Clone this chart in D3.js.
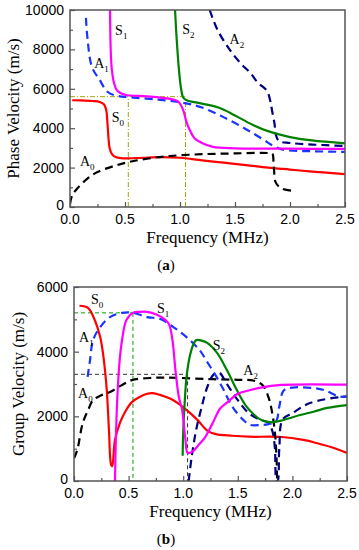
<!DOCTYPE html>
<html>
<head>
<meta charset="utf-8">
<script src="https://cdn.jsdelivr.net/npm/d3@7"></script>
<style>
  body { margin: 0; background: #fff; }
  .tick-label { font-family: "Liberation Sans", Arial, sans-serif; font-size: 14px; fill: #000; }
  .title { font-family: "Liberation Serif", "Times New Roman", serif; font-size: 17px; fill: #000; }
  .mode { font-family: "Liberation Serif", "Times New Roman", serif; font-size: 14px; fill: #000; }
</style>
</head>
<body>
<div id="chart"></div>
<script>
/* tick values */
var freqTicks = [0, 0.5, 1.0, 1.5, 2.0, 2.5]
var phaseTicks = [0, 2000, 4000, 6000, 8000, 10000]
var groupTicks = [0, 2000, 4000, 6000]

/* (a) phase velocity curves, [MHz, m/s] */
var phaseS0 = [[0.02,5420],[0.1,5410],[0.2,5380],[0.27,5330],[0.31,5200],[0.33,4900],[0.34,4300],[0.35,3500],[0.36,3000],[0.38,2700],[0.42,2520],[0.5,2470],[0.6,2480],[0.8,2530],[1.0,2500],[1.2,2370],[1.4,2250],[1.6,2130],[1.8,2000],[2.0,1900],[2.2,1800],[2.5,1670]]
var phaseA0 = [[0.0,150],[0.02,600],[0.06,900],[0.15,1400],[0.25,1780],[0.4,2080],[0.53,2280],[0.7,2450],[0.91,2590],[1.2,2680],[1.5,2720],[1.8,2740],[1.84,2700],[1.85,2300],[1.855,1900],[1.87,1250],[1.92,950],[2.05,800]]
var phaseS1 = [[0.364,10000],[0.37,8000],[0.38,7000],[0.4,6300],[0.43,5900],[0.5,5700],[0.7,5620],[0.9,5500],[0.97,5400],[1.0,5250],[1.03,4900],[1.06,4300],[1.09,3900],[1.13,3500],[1.2,3250],[1.3,3050],[1.5,2980],[2.0,2960],[2.5,2950]]
var phaseA1 = [[0.145,9600],[0.16,8500],[0.2,7100],[0.27,6450],[0.34,5850],[0.43,5640],[0.55,5570],[0.8,5450],[1.0,5320],[1.2,5050],[1.4,4550],[1.6,3950],[1.75,3450],[1.85,3100],[1.95,2900],[2.2,2830],[2.5,2800]]
var phaseS2 = [[0.955,10000],[0.97,8500],[0.99,7000],[1.01,6000],[1.03,5550],[1.06,5420],[1.2,5250],[1.35,5050],[1.5,4650],[1.65,4200],[1.8,3850],[2.0,3550],[2.2,3380],[2.5,3230]]
var phaseA2 = [[1.27,10000],[1.34,9000],[1.45,8000],[1.55,7300],[1.64,6800],[1.71,6300],[1.79,5900],[1.82,5400],[1.84,4800],[1.86,4200],[1.87,3700],[1.9,3350],[2.0,3250],[2.2,3170],[2.5,3100]]
var phaseRefs = [[[0,5600],[1.05,5600]], [[0.53,0],[0.53,5600]], [[1.05,0],[1.05,5600]]]

/* (b) group velocity curves, [MHz, m/s] */
var groupS0 = [[0.05,5420],[0.13,5350],[0.19,4980],[0.24,4450],[0.27,3830],[0.3,2820],[0.32,1580],[0.34,500],[0.35,460],[0.375,1270],[0.42,1790],[0.47,2150],[0.53,2440],[0.6,2600],[0.67,2700],[0.72,2720],[0.79,2660],[0.91,2500],[1.03,2200],[1.13,1890],[1.22,1560],[1.3,1450],[1.45,1400],[1.6,1370],[1.9,1360],[2.1,1270],[2.22,1175],[2.4,1000],[2.5,866]]
var groupA0 = [[0.0,700],[0.03,960],[0.08,1790],[0.13,2200],[0.175,2500],[0.25,2650],[0.33,2750],[0.43,2950],[0.53,3120],[0.72,3190],[0.94,3190],[1.25,3150],[1.5,3130],[1.65,3100],[1.73,2950],[1.78,2600],[1.81,2200],[1.84,1490],[1.855,700],[1.86,0]]
var groupS1 = [[0.375,0],[0.385,1500],[0.4,2800],[0.42,3800],[0.44,4360],[0.48,4980],[0.54,5200],[0.6,5230],[0.67,5230],[0.76,5140],[0.83,5000],[0.87,4850],[0.9,4400],[0.93,3400],[0.96,2600],[0.99,2200],[1.02,1300],[1.04,870],[1.08,900],[1.15,1150],[1.2,1350],[1.27,1790],[1.34,2250],[1.41,2450],[1.5,2700],[1.6,2800],[1.7,2880],[1.9,2970],[2.5,2980]]
var groupA1 = [[0.125,3220],[0.147,3740],[0.175,4360],[0.24,4760],[0.33,5070],[0.44,5200],[0.54,5200],[0.67,5070],[0.79,5010],[0.91,4760],[1.03,4450],[1.15,4050],[1.22,3680],[1.3,3250],[1.37,2820],[1.45,2300],[1.55,1890],[1.61,1740],[1.7,1730],[1.78,1760],[1.85,1850],[1.88,2300],[1.92,2800],[2.0,2890],[2.2,2870],[2.3,2800],[2.42,2620],[2.5,2600]]
var groupS2 = [[0.995,780],[1.0,1500],[1.015,2500],[1.03,3200],[1.06,3850],[1.09,4200],[1.12,4360],[1.17,4340],[1.22,4270],[1.31,3960],[1.4,3430],[1.49,2820],[1.58,2300],[1.65,2050],[1.72,1880],[1.8,1820],[1.91,1880],[2.07,2040],[2.2,2150],[2.32,2260],[2.5,2350]]
var groupA2 = [[1.05,0],[1.08,800],[1.12,1600],[1.17,2300],[1.22,2900],[1.28,3300],[1.33,3350],[1.4,3000],[1.5,2500],[1.6,2100],[1.7,1900],[1.78,1800],[1.82,1500],[1.84,1000],[1.855,0],[1.865,0],[1.88,1000],[1.91,1900],[2.0,2100],[2.16,2410],[2.44,2600],[2.5,2620]]
var groupRefsGreen = [[[0,5200],[0.54,5200]], [[0.54,5200],[0.54,0]]]
var groupRefsBlack = [[[0,3300],[1.04,3300]], [[1.04,3300],[1.04,0]]]

/* mode label anchors, [MHz, m/s] */
var phaseLabels = [["S","1",0.41,8750],["A","1",0.22,7060],["S","0",0.38,4320],["A","0",0.09,2080],["S","2",1.02,8780],["A","2",1.45,8280]]
var groupLabels = [["S","0",0.156,5475],["S","1",0.76,5200],["A","1",0.046,4300],["A","0",0.037,2567],["S","2",1.27,4050],["A","2",1.55,3280]]

var modeStyle = {
  S0: {color: "#ff0000", dash: null},
  S1: {color: "#ff00ff", dash: null},
  S2: {color: "#008000", dash: null},
  A0: {color: "#000000", dash: "8,5"},
  A1: {color: "#1a35ff", dash: "8,5"},
  A2: {color: "#000080", dash: "8,5"}
}

var svg = d3.select("#chart").append("svg")
  .attr("width", 359)
  .attr("height", 550)

function drawPanel(p) {
  var x = d3.scaleLinear().domain([0, 2.5]).range([p.left, p.right])
  var y = d3.scaleLinear().domain([0, p.yMax]).range([p.bottom, p.top])
  var g = svg.append("g")
  var clipId = "clip-" + p.name
  g.append("clipPath").attr("id", clipId)
    .append("rect")
    .attr("x", p.left).attr("y", p.top)
    .attr("width", p.right - p.left).attr("height", p.bottom - p.top)

  var line = d3.line()
    .x(function(d) { return x(d[0]) })
    .y(function(d) { return y(d[1]) })
  var smooth = d3.line()
    .curve(d3.curveCatmullRom.alpha(0.5))
    .x(function(d) { return x(d[0]) })
    .y(function(d) { return y(d[1]) })

  var plot = g.append("g").attr("clip-path", "url(#" + clipId + ")")

  /* reference lines */
  p.refs.forEach(function(r) {
    r.lines.forEach(function(seg) {
      plot.append("path")
        .attr("d", line(seg))
        .attr("fill", "none")
        .attr("stroke", r.color)
        .attr("stroke-width", 1)
        .attr("stroke-dasharray", r.dash)
    })
  })

  /* curves */
  p.series.forEach(function(s) {
    var st = modeStyle[s.mode]
    plot.append("path")
      .attr("d", smooth(s.data))
      .attr("fill", "none")
      .attr("stroke", st.color)
      .attr("stroke-width", 2.2)
      .attr("stroke-dasharray", st.dash)
  })

  /* frame */
  g.append("rect")
    .attr("x", p.left).attr("y", p.top)
    .attr("width", p.right - p.left).attr("height", p.bottom - p.top)
    .attr("fill", "none")
    .attr("stroke", "#555")
    .attr("stroke-width", 1.5)

  /* axes with inward ticks */
  var xAxis = d3.axisBottom(x).tickValues(freqTicks).tickSize(-5).tickFormat("")
  var xMinor = d3.axisBottom(x).tickValues(d3.range(0.25, 2.5, 0.5)).tickSize(-3).tickFormat("")
  var yAxis = d3.axisLeft(y).tickValues(p.yTicks).tickSize(-5).tickFormat("")
  var yMinor = d3.axisLeft(y).tickValues(p.yTicks.slice(0, -1).map(function(v) { return v + 1000 })).tickSize(-3).tickFormat("")
  ;[[xAxis, "translate(0," + p.bottom + ")"], [xMinor, "translate(0," + p.bottom + ")"],
    [yAxis, "translate(" + p.left + ",0)"], [yMinor, "translate(" + p.left + ",0)"]].forEach(function(a) {
    var ax = g.append("g").attr("transform", a[1]).call(a[0])
    ax.select(".domain").remove()
    ax.selectAll("line").attr("stroke", "#555").attr("stroke-width", 1.2)
  })

  g.selectAll(".xlab").data(freqTicks).enter().append("text")
    .attr("class", "tick-label")
    .attr("x", function(d) { return x(d) })
    .attr("y", p.bottom + 17)
    .attr("text-anchor", "middle")
    .text(function(d) { return d.toFixed(1) })

  g.selectAll(".ylab").data(p.yTicks).enter().append("text")
    .attr("class", "tick-label")
    .attr("x", p.left - 6)
    .attr("y", function(d) { return y(d) + (d === 0 ? 3 : 5) })
    .attr("text-anchor", "end")
    .text(function(d) { return d })

  /* mode labels */
  p.labels.forEach(function(l) {
    var t = g.append("text").attr("class", "mode")
      .attr("x", x(l[2])).attr("y", y(l[3]))
    t.append("tspan").text(l[0])
    t.append("tspan").attr("font-size", "9px").attr("dy", 4).text(l[1])
  })

  /* titles */
  g.append("text").attr("class", "title")
    .attr("x", (p.left + p.right) / 2).attr("y", p.bottom + 36)
    .attr("text-anchor", "middle")
    .text("Frequency (MHz)")
  g.append("text").attr("class", "title")
    .attr("transform", "translate(" + p.yTitleX + "," + (p.top + p.bottom) / 2 + ") rotate(-90)")
    .attr("text-anchor", "middle")
    .text(p.yTitle)
  var cap = g.append("text").attr("class", "title")
    .attr("x", 166).attr("y", p.bottom + 63)
    .attr("text-anchor", "middle")
    .style("font-size", "15px")
  cap.append("tspan").text("(")
  cap.append("tspan").attr("font-weight", "bold").text(p.name)
  cap.append("tspan").text(")")
}

drawPanel({
  name: "a", left: 70, right: 345, top: 10, bottom: 207,
  yMax: 10000, yTicks: phaseTicks, yTitle: "Phase Velocity (m/s)", yTitleX: 19,
  refs: [{lines: phaseRefs, color: "#a5a500", dash: "5,2,1,2"}],
  series: [
    {mode: "S0", data: phaseS0}, {mode: "A0", data: phaseA0},
    {mode: "A1", data: phaseA1}, {mode: "A2", data: phaseA2},
    {mode: "S2", data: phaseS2}, {mode: "S1", data: phaseS1}
  ],
  labels: phaseLabels
})

drawPanel({
  name: "b", left: 74, right: 347, top: 287, bottom: 481,
  yMax: 6000, yTicks: groupTicks, yTitle: "Group Velocity (m/s)", yTitleX: 24,
  refs: [{lines: groupRefsGreen, color: "#00a000", dash: "4,3"}, {lines: groupRefsBlack, color: "#333", dash: "4,3"}],
  series: [
    {mode: "S0", data: groupS0}, {mode: "A0", data: groupA0},
    {mode: "A2", data: groupA2}, {mode: "A1", data: groupA1},
    {mode: "S2", data: groupS2}, {mode: "S1", data: groupS1}
  ],
  labels: groupLabels
})
</script>
</body>
</html>
